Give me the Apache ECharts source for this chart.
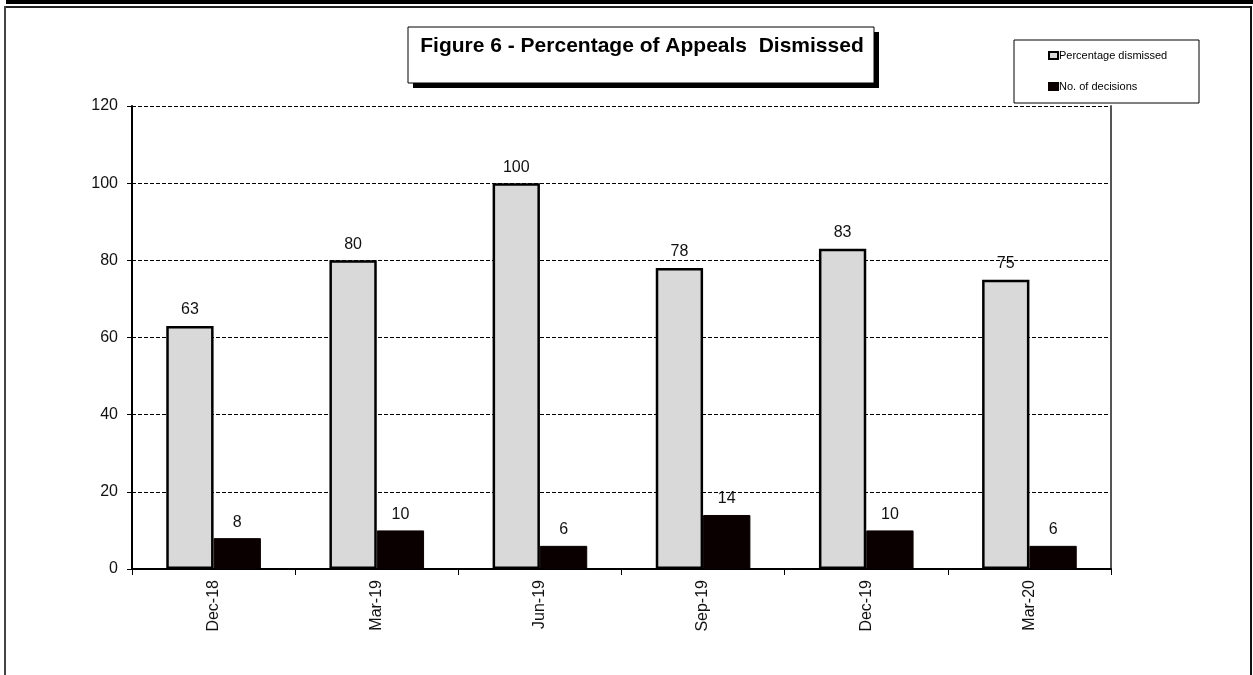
<!DOCTYPE html>
<html>
<head>
<meta charset="utf-8">
<script src="https://cdn.jsdelivr.net/npm/echarts@6/dist/echarts.min.js"></script>
<style>
  html, body { margin: 0; padding: 0; background: #fff; }
  #chart { width: 1253px; height: 675px; }
</style>
</head>
<body>
<div id="chart"></div>
<script>
// Quarterly appeals data
const categories = ['Dec-18', 'Mar-19', 'Jun-19', 'Sep-19', 'Dec-19', 'Mar-20'];
const percentageDismissed = [63, 80, 100, 78, 83, 75];
const numberOfDecisions = [8, 10, 6, 14, 10, 6];
const yTicks = { min: 0, max: 120, interval: 20 };

const chart = echarts.init(document.getElementById('chart'), null, { renderer: 'canvas' });

const labelStyle = {
  show: true,
  position: 'top',
  distance: 8,
  fontFamily: 'Liberation Sans, Arial, sans-serif',
  fontSize: 16,
  color: '#111'
};

chart.setOption({
  animation: false,
  backgroundColor: '#fff',
  textStyle: { fontFamily: 'Liberation Sans, Arial, sans-serif' },
  grid: { left: 132, right: 142, top: 106, bottom: 106, containLabel: false },
  legend: {
    orient: 'vertical',
    left: 1043,
    top: 45,
    itemGap: 20,
    itemWidth: 9,
    itemHeight: 7,
    icon: 'rect',
    textStyle: { fontSize: 11, color: '#000', padding: [0, 0, 0, -4] },
    data: ['Percentage dismissed', 'No. of decisions']
  },
  xAxis: {
    type: 'category',
    data: categories,
    axisLine: { lineStyle: { color: '#000', width: 2 } },
    axisTick: { show: true, length: 6, lineStyle: { color: '#000', width: 1 } },
    axisLabel: {
      rotate: 90,
      margin: 11,
      fontSize: 16,
      color: '#111'
    }
  },
  yAxis: [
    {
      type: 'value',
      min: yTicks.min,
      max: yTicks.max,
      interval: yTicks.interval,
      axisLine: { show: true, lineStyle: { color: '#000', width: 2 } },
      axisTick: { show: true, length: 5, lineStyle: { color: '#000', width: 1 } },
      axisLabel: { fontSize: 16, color: '#111', margin: 14 },
      splitLine: { show: true, lineStyle: { color: '#000', width: 1, type: [4, 2] } }
    },
    {
      type: 'value',
      position: 'right',
      min: yTicks.min,
      max: yTicks.max,
      interval: yTicks.interval,
      axisLine: { show: true, lineStyle: { color: '#555', width: 2 } },
      axisTick: { show: false },
      axisLabel: { show: false },
      splitLine: { show: false }
    }
  ],
  series: [
    {
      name: 'Percentage dismissed',
      type: 'bar',
      data: percentageDismissed,
      barGap: '0%',
      barCategoryGap: '42%',
      itemStyle: { color: '#d9d9d9', borderColor: '#000', borderWidth: 2.5 },
      label: labelStyle
    },
    {
      name: 'No. of decisions',
      type: 'bar',
      data: numberOfDecisions,
      itemStyle: { color: '#0b0000', borderColor: '#0b0000', borderWidth: 1 },
      label: labelStyle
    }
  ],
  graphic: [
    // outer page frame
    { type: 'rect', shape: { x: 6, y: 0, width: 1247, height: 4 }, style: { fill: '#000' }, z: 100 },
    { type: 'line', shape: { x1: 5, y1: 7, x2: 1252, y2: 7 }, style: { stroke: '#222', lineWidth: 2 }, z: 100 },
    { type: 'line', shape: { x1: 5, y1: 6, x2: 5, y2: 675 }, style: { stroke: '#444', lineWidth: 2 }, z: 100 },
    { type: 'line', shape: { x1: 1251, y1: 6, x2: 1251, y2: 675 }, style: { stroke: '#111', lineWidth: 2 }, z: 100 },
    // title box with drop shadow
    { type: 'rect', shape: { x: 413, y: 32, width: 466, height: 56 }, style: { fill: '#000' }, z: 100 },
    { type: 'rect', shape: { x: 408, y: 27, width: 466, height: 56 }, style: { fill: '#fff', stroke: '#000', lineWidth: 1 }, z: 101 },
    {
      type: 'text', x: 642, y: 46, z: 102,
      style: {
        text: 'Figure 6 - Percentage of Appeals  Dismissed',
        font: 'bold 21px "Liberation Sans", Arial, sans-serif',
        fill: '#000', align: 'center', verticalAlign: 'middle'
      }
    },
    // legend box
    { type: 'rect', shape: { x: 1014, y: 40, width: 185, height: 63 }, style: { fill: 'none', stroke: '#000', lineWidth: 1 }, z: 99 }
  ]
});
</script>
</body>
</html>
